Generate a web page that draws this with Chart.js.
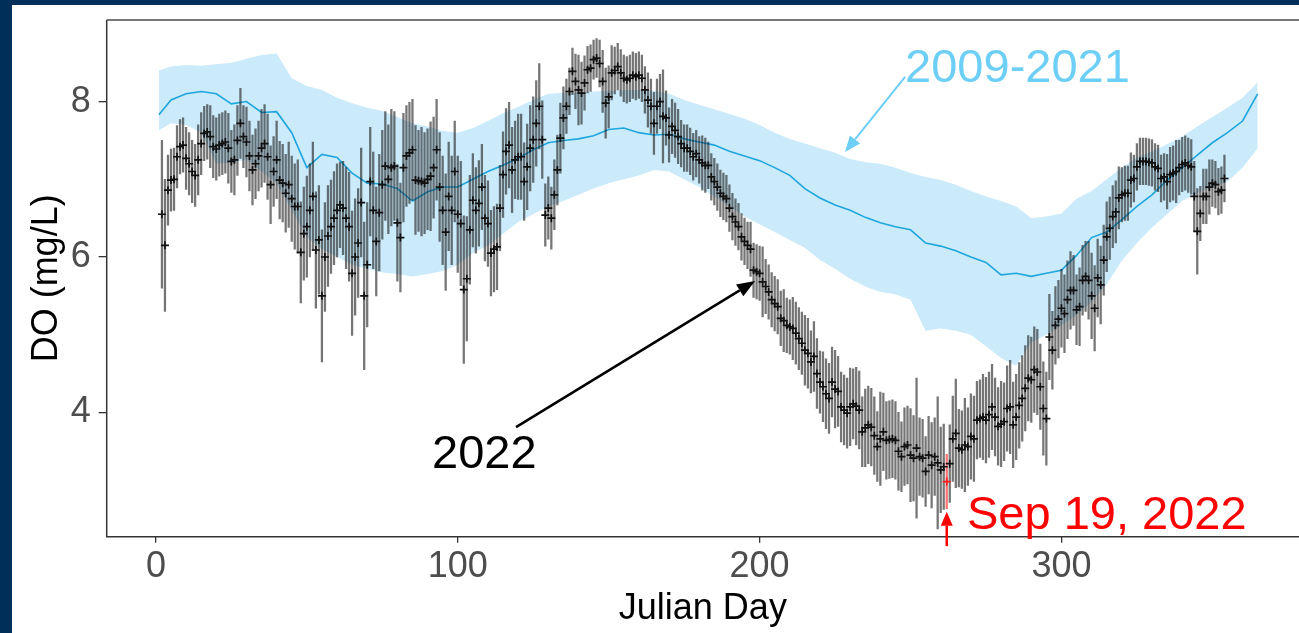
<!DOCTYPE html>
<html>
<head>
<meta charset="utf-8">
<script src="https://cdn.jsdelivr.net/npm/chart.js@4.4.0/dist/chart.umd.min.js"></script>
<style>
  html, body { margin: 0; padding: 0; background: #002f5a; overflow: hidden; }
  #fondo { position: absolute; left: 12px; top: 5px; right: 0; bottom: 0; background: #fff; }
  #grafico { position: absolute; left: 0; top: 0; }
</style>
</head>
<body>
<div id="fondo"></div>
<canvas id="grafico" width="1299" height="633"></canvas>
<script>
// Datos 2009-2021: banda (min/max) y media, cada 5 dias
const diasBanda = [1,5,10,15,20,25,30,35,40,45,50,55,60,65,70,75,80,85,90,95,100,105,110,115,120,125,130,135,140,145,150,155,160,165,170,175,180,185,190,195,200,205,210,215,220,225,230,235,240,245,250,255,260,265,270,275,280,285,290,295,300,305,310,315,320,325,330,335,340,345,350,355,360,365];
const sup0921 = [8.40,8.45,8.47,8.46,8.48,8.50,8.55,8.60,8.62,8.30, 8.20,8.15,8.05,7.98,7.92,7.88,7.80,7.72,7.68,7.62, 7.60,7.66,7.75,7.85,7.93,8.02,8.10,8.11,8.12,8.13, 8.14,8.15,8.15,8.14,8.10,8.02,7.96,7.90,7.84,7.78, 7.70,7.60,7.52,7.46,7.40,7.34,7.26,7.22,7.20,7.15, 7.08,7.03,6.99,6.93,6.85,6.78,6.72,6.65,6.50,6.52, 6.56,6.75,6.85,7.00,7.15,7.28,7.36,7.45,7.55,7.68, 7.80,7.92,8.05,8.25];
const media0921 = [7.83,8.02,8.10,8.13,8.10,7.97,8.00,7.86,7.87,7.60, 7.15,7.32,7.28,7.08,6.95,6.94,6.88,6.72,6.84,6.90, 6.90,7.00,7.10,7.18,7.27,7.38,7.47,7.50,7.52,7.56, 7.64,7.66,7.60,7.57,7.58,7.52,7.48,7.44,7.36,7.30, 7.24,7.15,7.05,6.88,6.76,6.67,6.60,6.51,6.44,6.39, 6.35,6.18,6.14,6.08,6.00,5.93,5.77,5.79,5.75,5.79, 5.83,6.02,6.25,6.32,6.48,6.65,6.80,6.99,7.15,7.31, 7.47,7.60,7.75,8.10];
const inf0921 = [7.63,7.72,7.70,7.60,7.20,7.22,7.25,7.10,6.95,6.60, 6.25,6.10,6.00,5.90,5.85,5.80,5.78,5.75,5.78,5.82, 5.90,6.05,6.15,6.30,6.45,6.55,6.65,6.72,6.80,6.88, 6.95,7.00,7.05,7.12,7.10,7.00,6.90,6.78,6.65,6.52, 6.42,6.32,6.22,6.12,5.96,5.85,5.72,5.62,5.55,5.52, 5.45,5.05,5.08,5.05,5.00,4.85,4.70,4.60,4.90,5.00, 5.12,5.25,5.42,5.65,5.95,6.18,6.38,6.55,6.72,6.82, 6.90,6.97,7.15,7.40];

// Datos 2022: media diaria y semi-rango de la barra, desde el dia 2
const primerDia2022 = 2;
const do2022 = [
  6.55,6.15,6.86,6.99,7.00,7.29,7.42,7.44,7.27,7.20,
  7.10,7.05,7.25,7.46,7.59,7.61,7.55,7.42,7.39,7.44,
  7.46,7.48,7.40,7.23,7.25,7.50,7.72,7.55,7.48,7.30,
  7.12,7.20,7.30,7.40,7.46,7.29,6.93,7.10,7.25,6.99,
  6.95,6.82,6.93,6.75,6.65,6.65,6.06,6.30,6.39,6.60,
  6.78,6.09,6.22,5.50,6.00,6.27,6.39,6.50,6.60,6.67,
  6.63,6.50,6.39,5.79,6.00,6.18,6.70,5.50,5.90,6.97,
  6.60,6.20,6.57,6.93,7.17,7.00,7.15,7.17,6.44,6.25,
  7.15,7.30,7.34,7.38,6.99,6.98,6.97,6.95,7.00,7.04,
  7.15,7.38,6.90,6.60,6.32,6.78,6.60,7.10,6.55,6.43,
  5.58,5.72,6.35,6.73,6.60,6.69,6.90,6.50,6.43,6.05,
  6.10,6.13,6.63,7.06,7.36,7.44,7.12,7.25,7.29,7.29,
  6.97,7.16,7.40,7.51,7.72,7.94,7.51,6.54,6.63,6.50,
  6.80,7.12,7.53,7.79,7.94,8.13,8.39,8.26,8.15,8.11,
  8.24,8.41,8.43,8.54,8.56,8.49,8.26,7.98,8.06,8.37,
  8.40,8.45,8.37,8.30,8.28,8.30,8.34,8.32,8.34,8.30,
  8.15,8.02,7.94,7.72,7.94,8.00,7.81,7.79,7.57,7.68,
  7.63,7.55,7.46,7.40,7.40,7.36,7.29,7.33,7.25,7.21,
  7.18,7.18,7.03,6.97,6.90,6.82,6.78,6.75,6.63,6.52,
  6.45,6.39,6.26,6.20,6.15,6.10,5.83,5.81,5.79,5.68,
  5.62,5.55,5.45,5.40,5.36,5.21,5.18,5.12,5.10,5.08,
  5.02,4.95,4.89,4.80,4.76,4.65,4.72,4.50,4.39,4.33,
  4.24,4.18,4.39,4.30,4.27,4.07,4.03,3.99,4.07,4.11,
  4.08,4.03,3.75,3.80,3.84,3.81,3.70,3.56,3.66,3.75,
  3.64,3.65,3.66,3.64,3.50,3.43,3.56,3.58,3.45,3.41,
  3.54,3.43,3.41,3.24,3.45,3.32,3.43,3.35,3.26,3.30,
  3.11,3.34,3.66,3.73,3.54,3.52,3.58,3.56,3.69,3.66,
  3.90,3.92,3.94,3.90,3.97,4.07,3.94,3.82,3.85,3.88,
  4.05,4.07,3.84,3.94,4.09,4.18,4.31,4.44,4.42,4.55,
  4.52,4.33,4.05,3.92,4.97,4.80,5.12,5.20,5.34,5.27,
  5.45,5.57,5.57,5.32,5.36,5.70,5.75,5.70,5.50,5.34,
  5.73,5.64,5.96,6.26,6.37,6.52,6.58,6.76,6.80,6.82,
  6.82,6.99,7.01,7.16,7.23,7.23,7.23,7.22,7.21,7.16,
  7.14,7.01,7.03,6.97,7.06,7.08,7.10,7.15,7.19,7.21,
  7.18,7.16,6.78,6.33,6.56,6.78,6.78,6.90,6.95,6.93,
  6.84,6.86,7.01
];
const rango2022 = [
  .95,.85,.45,.40,.40,.40,.35,.35,.40,.40,
  .40,.40,.45,.40,.35,.35,.40,.40,.40,.40,
  .40,.40,.45,.40,.45,.45,.45,.40,.45,.45,
  .45,.45,.45,.50,.50,.55,.50,.45,.50,.50,
  .50,.50,.55,.55,.55,.60,.65,.60,.65,.60,
  .70,.75,.70,.85,.70,.65,.60,.60,.60,.55,
  .60,.65,.70,.80,.75,.70,.70,.95,.80,.70,
  .75,.70,.75,.70,.70,.70,.75,.70,.75,.70,
  .70,.65,.65,.65,.70,.65,.70,.65,.65,.70,
  .65,.65,.70,.70,.75,.70,.70,.65,.75,.80,
  .95,.80,.70,.60,.55,.55,.55,.55,.55,.55,
  .55,.55,.55,.55,.55,.55,.55,.50,.55,.55,
  .50,.55,.55,.55,.55,.55,.50,.40,.40,.40,
  .45,.45,.45,.40,.35,.30,.30,.35,.45,.40,
  .35,.30,.30,.25,.25,.30,.40,.45,.40,.35,
  .30,.30,.30,.30,.30,.30,.30,.30,.30,.30,
  .30,.35,.35,.40,.35,.35,.60,.35,.35,.35,
  .35,.35,.30,.30,.30,.30,.30,.30,.30,.35,
  .35,.30,.30,.30,.30,.30,.30,.30,.30,.30,
  .30,.30,.30,.30,.30,.35,.35,.35,.35,.45,
  .35,.35,.35,.35,.35,.35,.40,.35,.35,.40,
  .40,.40,.40,.45,.45,.40,.45,.45,.40,.45,
  .45,.45,.45,.50,.45,.45,.45,.45,.50,.45,
  .50,.50,.45,.50,.50,.50,.50,.45,.60,.50,
  .50,.50,.50,.50,.50,.45,.50,.50,.60,.55,
  .90,.50,.50,.45,.50,.55,.50,.85,.55,.55,
  .35,.50,.55,.70,.50,.50,.60,.50,.55,.55,
  .50,.50,.55,.55,.55,.55,.50,.50,.55,.50,
  .55,.60,.55,.55,.55,.55,.55,.55,.55,.55,
  .55,.55,.60,.60,.55,.50,.50,.50,.50,.50,
  .50,.50,.45,.45,.50,.45,.45,.50,.55,.55,
  .50,.50,.45,.45,.40,.40,.40,.40,.35,.35,
  .35,.35,.30,.30,.30,.30,.30,.30,.30,.30,
  .30,.30,.30,.35,.35,.35,.40,.35,.35,.35,
  .35,.35,.45,.55,.35,.35,.35,.35,.30,.30,
  .30,.30,.30
];
const diaSep19 = 262;  // 19 de septiembre de 2022

// Ejes
const ticksX = [0, 100, 200, 300];
const ticksY = [4, 6, 8];

// Notas (coordenadas en unidades de los datos)
const notasTexto = ['2009-2021', '2022', 'Sep 19, 2022'];
const notasX = [248.2, 91.5, 268.7];
const notasY = [8.254, 3.283, 2.50];
const notasColor = ['#6dcff6', '#000000', '#ff0000'];
const flechasDesde = [[248.2, 8.318], [119.3, 3.811], [262, 2.278]];
const flechasHasta = [[228.3, 7.352], [198.5, 5.691], [262, 2.72]];

const fuente = "'Liberation Sans', Arial, sans-serif";

// Construir puntos para Chart.js
const puntos2022 = [];
const barras2022 = [];
do2022.forEach((v, i) => {
    const dia = primerDia2022 + i;
    puntos2022.push({ x: dia, y: v });
    barras2022.push({ x: dia, y: [v - rango2022[i], v + rango2022[i]] });
});
const bandaSup = diasBanda.map((d, i) => ({ x: d, y: sup0921[i] }));
const bandaInf = diasBanda.map((d, i) => ({ x: d, y: inf0921[i] }));
const lineaMedia = diasBanda.map((d, i) => ({ x: d, y: media0921[i] }));

const esRojo = c => c.raw && c.raw.x === diaSep19;

// Dibuja una flecha con punta rellena
function flecha(ctx, x0, y0, x1, y1, color, grosor, largo, ancho) {
    const ang = Math.atan2(y1 - y0, x1 - x0);
    const bx = x1 - largo * Math.cos(ang);
    const by = y1 - largo * Math.sin(ang);
    ctx.strokeStyle = color;
    ctx.lineWidth = grosor;
    ctx.beginPath();
    ctx.moveTo(x0, y0);
    ctx.lineTo(bx, by);
    ctx.stroke();
    ctx.fillStyle = color;
    ctx.beginPath();
    ctx.moveTo(x1, y1);
    ctx.lineTo(bx + ancho / 2 * Math.sin(ang), by - ancho / 2 * Math.cos(ang));
    ctx.lineTo(bx - ancho / 2 * Math.sin(ang), by + ancho / 2 * Math.cos(ang));
    ctx.closePath();
    ctx.fill();
}

const pluginNotas = {
    id: 'notas',
    afterDatasetsDraw(chart) {
        // Marco del panel
        const { ctx, chartArea: a } = chart;
        ctx.save();
        ctx.strokeStyle = '#777';
        ctx.lineWidth = 2;
        ctx.beginPath();
        ctx.moveTo(a.left, a.top);
        ctx.lineTo(a.right, a.top);
        ctx.stroke();
        ctx.strokeStyle = '#333';
        ctx.lineWidth = 1.5;
        ctx.beginPath();
        ctx.moveTo(a.left, a.top);
        ctx.lineTo(a.left, a.bottom);
        ctx.lineTo(a.right, a.bottom);
        ctx.stroke();
        ctx.restore();
    },
    afterDraw(chart) {
        const { ctx, scales: { x, y } } = chart;
        ctx.save();
        const grosores = [2, 2.5, 2.5];
        const largos = [16, 18, 14];
        const anchos = [13, 14, 12];
        flechasDesde.forEach((p, i) => {
            const q = flechasHasta[i];
            flecha(ctx, x.getPixelForValue(p[0]), y.getPixelForValue(p[1]),
                   x.getPixelForValue(q[0]), y.getPixelForValue(q[1]),
                   notasColor[i], grosores[i], largos[i], anchos[i]);
        });
        ctx.font = '47px ' + fuente;
        ctx.textAlign = 'left';
        ctx.textBaseline = 'alphabetic';
        notasTexto.forEach((t, i) => {
            ctx.fillStyle = notasColor[i];
            ctx.fillText(t, x.getPixelForValue(notasX[i]), y.getPixelForValue(notasY[i]));
        });
        ctx.restore();
    }
};

const ctx = document.getElementById('grafico').getContext('2d');
new Chart(ctx, {
    type: 'bar',
    data: {
        datasets: [
            {
                type: 'line',
                label: '2022',
                data: puntos2022,
                showLine: false,
                pointStyle: 'cross',
                pointRadius: 4,
                pointBorderWidth: 1.7,
                pointBorderColor: c => esRojo(c) ? '#ff2020' : '#111',
                order: 1
            },
            {
                type: 'bar',
                label: 'rango 2022',
                data: barras2022,
                barThickness: 1.6,
                backgroundColor: c => esRojo(c) ? 'rgba(255,40,40,0.65)' : 'rgba(25,25,25,0.6)',
                order: 2
            },
            {
                type: 'line',
                label: 'media 2009-2021',
                data: lineaMedia,
                borderColor: '#1fa6de',
                borderWidth: 1.6,
                pointRadius: 0,
                fill: false,
                order: 3
            },
            {
                type: 'line',
                label: 'max 2009-2021',
                data: bandaSup,
                borderWidth: 0,
                pointRadius: 0,
                backgroundColor: '#cbeafa',
                fill: '+1',
                order: 4
            },
            {
                type: 'line',
                label: 'min 2009-2021',
                data: bandaInf,
                borderWidth: 0,
                pointRadius: 0,
                fill: false,
                order: 5
            }
        ]
    },
    options: {
        responsive: false,
        animation: false,
        devicePixelRatio: 1,
        layout: { padding: { top: 20, left: 0, right: 0, bottom: 0 }, autoPadding: false },
        plugins: { legend: { display: false }, tooltip: { enabled: false } },
        scales: {
            x: {
                type: 'linear',
                min: -16.3,
                max: 378.7,
                offset: false,
                afterBuildTicks: s => { s.ticks = ticksX.map(v => ({ value: v })); },
                afterFit: s => { s.height = 96.3; s.paddingLeft = 0; s.paddingRight = 0; },
                grid: { drawOnChartArea: false, drawTicks: true, tickLength: 6, color: '#333', lineWidth: 1.3, offset: false },
                border: { display: false },
                ticks: { color: '#4d4d4d', font: { family: fuente, size: 36 }, padding: 3, maxRotation: 0 },
                title: { display: true, text: 'Julian Day', color: '#000', font: { family: fuente, size: 36 }, padding: { top: 0, bottom: 2 } }
            },
            y: {
                min: 2.40,
                max: 9.05,
                afterBuildTicks: s => { s.ticks = ticksY.map(v => ({ value: v })); },
                afterFit: s => { s.width = 106.7; s.paddingTop = 0; s.paddingBottom = 0; },
                grid: { drawOnChartArea: false, drawTicks: true, tickLength: 8, color: '#333', lineWidth: 1.3 },
                border: { display: false },
                ticks: { color: '#4d4d4d', font: { family: fuente, size: 36 }, padding: 8 },
                title: { display: true, text: 'DO (mg/L)', color: '#000', font: { family: fuente, size: 36 }, padding: { top: 25, bottom: 0 } }
            }
        }
    },
    plugins: [pluginNotas]
});
</script>
</body>
</html>
